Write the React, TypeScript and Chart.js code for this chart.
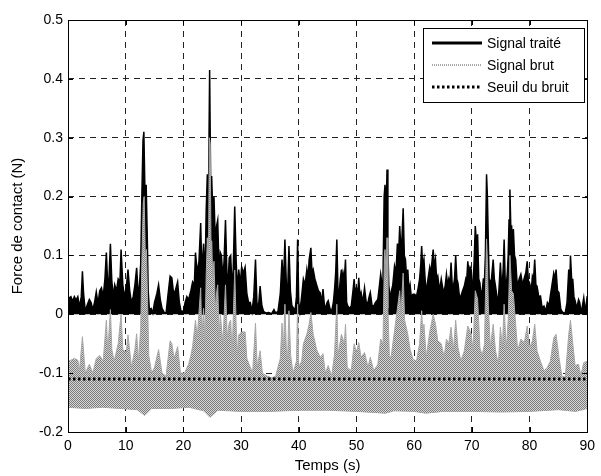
import React, { useEffect, useRef } from "react";
import { Chart, registerables } from "chart.js";

Chart.register(...registerables);

// Signal traité: [time (s), force (N)]
const SIGNAL_TRAITE: [number, number][] = [
  [0, 0], [0.2, 0.028], [0.5, 0.03], [0.8, 0.022], [1.1, 0.03], [1.4, 0.024], [1.7, 0.03], [2.0, 0.012],
  [2.3, 0.03], [2.5, 0.073], [2.7, 0.035], [3.0, 0.005], [3.3, 0.015], [3.7, 0.025], [4.0, 0.02], [4.3, 0.008],
  [4.6, 0.02], [4.9, 0.038], [5.2, 0.018], [5.5, 0.04], [5.8, 0.045], [6.1, 0.03], [6.4, 0.06], [6.65, 0.105],
  [6.9, 0.045], [7.1, 0.06], [7.35, 0.12], [7.6, 0.055], [7.9, 0.03], [8.1, 0.05], [8.4, 0.04], [8.7, 0.06],
  [9.0, 0.055], [9.2, 0.11], [9.5, 0.05], [9.8, 0.03], [10.1, 0.045], [10.4, 0.076], [10.7, 0.04], [11.0, 0.02],
  [11.3, 0.03], [11.6, 0.05], [11.9, 0.079], [12.2, 0.03], [12.4, 0.05], [12.6, 0.085], [12.8, 0.2], [13.0, 0.295],
  [13.15, 0.31], [13.35, 0.2], [13.55, 0.22], [13.75, 0.127], [13.9, 0.04], [14.1, 0.008], [14.4, 0.01], [14.7, 0.002],
  [15.0, 0.02], [15.4, 0.035], [15.7, 0.05], [16.0, 0.025], [16.3, 0.01], [16.7, 0.003], [17.0, 0.002], [17.3, 0.03],
  [17.7, 0.065], [18.0, 0.062], [18.3, 0.035], [18.6, 0.04], [19.0, 0.055], [19.3, 0.02], [19.6, 0.005], [20.0, 0.005],
  [20.3, 0.02], [20.6, 0.03], [20.9, 0.025], [21.3, 0.04], [21.6, 0.055], [21.9, 0.05], [22.1, 0.105], [22.4, 0.07],
  [22.7, 0.09], [23.0, 0.155], [23.2, 0.07], [23.5, 0.12], [23.75, 0.06], [23.95, 0.175], [24.15, 0.238], [24.35, 0.2],
  [24.55, 0.415], [24.75, 0.2], [24.9, 0.235], [25.1, 0.17], [25.3, 0.2], [25.55, 0.12], [25.75, 0.15], [25.95, 0.16],
  [26.2, 0.07], [26.4, 0.105], [26.6, 0.1], [26.85, 0.06], [27.05, 0.09], [27.3, 0.16], [27.55, 0.07], [27.75, 0.05],
  [27.95, 0.096], [28.2, 0.1], [28.45, 0.04], [28.65, 0.08], [28.9, 0.183], [29.15, 0.09], [29.35, 0.04], [29.6, 0.076],
  [29.85, 0.05], [30.1, 0.08], [30.4, 0.07], [30.7, 0.08], [31.0, 0.035], [31.3, 0.02], [31.6, 0.02], [31.9, 0.005],
  [32.2, 0.03], [32.5, 0.093], [32.75, 0.02], [33.0, 0.01], [33.3, 0.048], [33.6, 0.015], [33.9, 0.005], [34.3, 0.002],
  [34.8, 0.003], [35.3, 0.001], [35.7, 0.008], [36.0, 0.002], [36.4, 0.005], [36.8, 0.035], [37.1, 0.093], [37.35, 0.05],
  [37.6, 0.127], [37.85, 0.05], [38.05, 0.03], [38.3, 0.116], [38.55, 0.04], [38.8, 0.015], [39.1, 0.01], [39.4, 0.01],
  [39.6, 0.03], [39.8, 0.127], [40.0, 0.02], [40.2, 0.005], [40.5, 0.03], [40.8, 0.06], [41.1, 0.05], [41.4, 0.076],
  [41.6, 0.06], [41.8, 0.093], [42.1, 0.113], [42.3, 0.07], [42.5, 0.076], [42.8, 0.06], [43.1, 0.05], [43.4, 0.04],
  [43.7, 0.037], [43.95, 0.02], [44.2, 0.043], [44.45, 0.015], [44.6, 0.01], [44.9, 0.02], [45.1, 0.023], [45.4, 0.01],
  [45.7, 0.005], [46.0, 0.02], [46.2, 0.042], [46.4, 0.07], [46.6, 0.127], [46.8, 0.04], [47.0, 0.035], [47.2, 0.06],
  [47.4, 0.076], [47.55, 0.05], [47.7, 0.07], [47.9, 0.06], [48.1, 0.093], [48.3, 0.02], [48.5, 0.014], [48.8, 0.01],
  [49.1, 0.014], [49.4, 0.04], [49.6, 0.06], [49.8, 0.035], [50.0, 0.045], [50.2, 0.03], [50.4, 0.062], [50.6, 0.03],
  [50.8, 0.037], [51.1, 0.02], [51.4, 0.045], [51.7, 0.02], [52.0, 0.02], [52.2, 0.03], [52.4, 0.037], [52.7, 0.015],
  [53.0, 0.014], [53.3, 0.02], [53.7, 0.025], [54.0, 0.05], [54.2, 0.068], [54.45, 0.05], [54.6, 0.06], [54.8, 0.2],
  [54.95, 0.22], [55.15, 0.17], [55.3, 0.246], [55.45, 0.12], [55.6, 0.05], [55.8, 0.03], [56.0, 0.037], [56.3, 0.05],
  [56.6, 0.082], [56.85, 0.07], [57.1, 0.12], [57.3, 0.1], [57.5, 0.15], [57.7, 0.11], [57.85, 0.12], [58.1, 0.18],
  [58.3, 0.1], [58.5, 0.093], [58.7, 0.06], [58.9, 0.076], [59.1, 0.04], [59.3, 0.05], [59.5, 0.03], [59.8, 0.034],
  [60.1, 0.034], [60.4, 0.03], [60.7, 0.045], [60.95, 0.06], [61.15, 0.085], [61.3, 0.116], [61.5, 0.08], [61.7, 0.093],
  [61.9, 0.06], [62.1, 0.037], [62.4, 0.06], [62.7, 0.08], [62.9, 0.07], [63.1, 0.09], [63.3, 0.11], [63.5, 0.08],
  [63.7, 0.093], [63.9, 0.06], [64.1, 0.065], [64.4, 0.04], [64.7, 0.06], [64.95, 0.045], [65.2, 0.037], [65.4, 0.05],
  [65.6, 0.068], [65.8, 0.05], [66.0, 0.06], [66.2, 0.05], [66.4, 0.088], [66.6, 0.05], [66.8, 0.048], [67.0, 0.06],
  [67.2, 0.1], [67.4, 0.06], [67.6, 0.053], [67.85, 0.03], [68.1, 0.031], [68.4, 0.04], [68.7, 0.048], [68.95, 0.06],
  [69.1, 0.055], [69.3, 0.09], [69.5, 0.07], [69.7, 0.08], [69.9, 0.076], [70.05, 0.04], [70.2, 0.048], [70.4, 0.09],
  [70.6, 0.15], [70.8, 0.12], [71.0, 0.136], [71.2, 0.06], [71.4, 0.053], [71.6, 0.03], [71.8, 0.04], [72.0, 0.06],
  [72.2, 0.06], [72.35, 0.1], [72.55, 0.238], [72.7, 0.2], [72.85, 0.127], [73.0, 0.06], [73.2, 0.053], [73.4, 0.06],
  [73.7, 0.093], [73.9, 0.06], [74.1, 0.048], [74.35, 0.03], [74.6, 0.025], [74.8, 0.06], [74.95, 0.088], [75.15, 0.05],
  [75.3, 0.053], [75.45, 0.08], [75.6, 0.127], [75.8, 0.05], [75.95, 0.048], [76.15, 0.07], [76.3, 0.1], [76.45, 0.16],
  [76.6, 0.212], [76.75, 0.15], [76.9, 0.15], [77.05, 0.1], [77.2, 0.145], [77.4, 0.1], [77.6, 0.093], [77.8, 0.06],
  [77.95, 0.048], [78.2, 0.06], [78.5, 0.068], [78.8, 0.05], [79.1, 0.062], [79.35, 0.07], [79.6, 0.09], [79.85, 0.05],
  [80.0, 0.053], [80.3, 0.04], [80.5, 0.065], [80.7, 0.06], [80.9, 0.093], [81.1, 0.05], [81.3, 0.048], [81.6, 0.03],
  [81.9, 0.031], [82.2, 0.01], [82.5, 0.014], [82.8, 0.005], [83.1, 0.02], [83.4, 0.015], [83.6, 0.031], [83.9, 0.05],
  [84.2, 0.07], [84.45, 0.06], [84.6, 0.076], [84.85, 0.04], [85.1, 0.037], [85.4, 0.01], [85.6, 0.005], [85.9, 0.002],
  [86.2, 0.003], [86.5, 0.02], [86.8, 0.076], [87.0, 0.06], [87.1, 0.1], [87.3, 0.06], [87.5, 0.059], [87.7, 0.03],
  [87.9, 0.023], [88.2, 0.01], [88.5, 0.025], [88.7, 0.02], [88.9, 0.006], [89.1, 0.01], [89.4, 0.028], [89.6, 0.01],
  [89.8, 0.014], [90.0, 0.031],
];

// Signal brut, upper envelope: [time (s), force (N)]
const SIGNAL_BRUT_HAUT: [number, number][] = [
  [0, -0.08], [0.5, -0.078], [1.1, -0.075], [1.7, -0.078], [2.0, -0.095], [2.5, -0.038], [3.0, -0.1], [3.7, -0.085],
  [4.3, -0.1], [4.9, -0.075], [5.5, -0.07], [6.1, -0.08], [6.65, -0.01], [6.9, -0.065], [7.35, 0.008], [7.6, -0.06],
  [8.0, -0.08], [8.7, -0.05], [9.2, 0.0], [9.5, -0.06], [10.1, -0.065], [10.4, -0.035], [11.0, -0.09], [11.6, -0.06],
  [11.9, -0.033], [12.2, -0.08], [12.6, -0.025], [12.8, 0.09], [13.05, 0.19], [13.2, 0.2], [13.4, 0.1], [13.6, 0.11],
  [13.8, 0.02], [14.0, -0.07], [14.5, -0.1], [15.0, -0.09], [15.7, -0.06], [16.3, -0.1], [17.0, -0.105], [17.7, -0.045],
  [18.0, -0.05], [18.4, -0.075], [19.0, -0.055], [19.5, -0.1], [20.2, -0.1], [20.9, -0.085], [21.3, -0.07], [21.6, -0.055],
  [22.1, -0.01], [22.4, -0.04], [23.0, 0.045], [23.2, -0.04], [23.5, 0.01], [23.75, -0.045], [23.95, 0.065], [24.15, 0.13],
  [24.35, 0.09], [24.5, 0.3], [24.65, 0.29], [24.8, 0.1], [24.9, 0.125], [25.1, 0.06], [25.3, 0.09], [25.55, 0.01],
  [25.8, 0.04], [25.95, 0.05], [26.2, -0.04], [26.4, 0.0], [26.85, -0.05], [27.3, 0.05], [27.6, -0.04], [27.95, -0.015],
  [28.2, -0.01], [28.45, -0.07], [28.9, 0.075], [29.15, -0.02], [29.4, -0.07], [29.6, -0.035], [30.1, -0.03], [30.7, -0.03],
  [31.0, -0.075], [31.6, -0.09], [32.0, -0.1], [32.5, -0.015], [32.8, -0.09], [33.3, -0.062], [33.7, -0.1], [34.5, -0.105],
  [35.3, -0.108], [36.0, -0.105], [36.8, -0.075], [37.1, -0.015], [37.35, -0.06], [37.6, 0.017], [37.85, -0.06], [38.05, -0.08],
  [38.3, 0.006], [38.6, -0.07], [39.0, -0.1], [39.6, -0.08], [39.8, 0.017], [40.0, -0.09], [40.5, -0.08], [40.8, -0.05],
  [41.4, -0.034], [41.8, -0.017], [42.1, 0.003], [42.5, -0.034], [43.1, -0.06], [43.7, -0.073], [44.2, -0.067], [44.6, -0.1],
  [45.1, -0.087], [45.7, -0.105], [46.2, -0.068], [46.6, 0.017], [46.8, -0.07], [47.4, -0.034], [47.9, -0.05], [48.1, -0.017],
  [48.4, -0.09], [49.1, -0.096], [49.6, -0.05], [50.0, -0.065], [50.4, -0.048], [50.8, -0.073], [51.4, -0.065], [52.0, -0.09],
  [52.4, -0.073], [53.0, -0.096], [53.7, -0.085], [54.2, -0.042], [54.6, -0.05], [54.85, 0.1], [54.95, 0.11], [55.15, 0.06],
  [55.3, 0.13], [55.45, 0.01], [55.7, -0.07], [56.0, -0.073], [56.6, -0.028], [57.1, 0.01], [57.5, 0.04], [57.7, 0.0],
  [58.1, 0.07], [58.35, -0.01], [58.9, -0.034], [59.3, -0.06], [59.8, -0.076], [60.4, -0.08], [60.95, -0.05], [61.3, 0.006],
  [61.5, -0.03], [61.7, -0.017], [62.1, -0.073], [62.7, -0.03], [63.3, 0.0], [63.7, -0.017], [64.1, -0.045], [64.7, -0.05],
  [65.2, -0.073], [65.6, -0.042], [66.0, -0.05], [66.4, -0.022], [66.8, -0.062], [67.2, -0.01], [67.6, -0.057], [68.1, -0.079],
  [68.7, -0.062], [69.3, -0.02], [69.9, -0.034], [70.2, -0.062], [70.6, 0.04], [71.0, 0.026], [71.4, -0.057], [71.8, -0.07],
  [72.2, -0.05], [72.55, 0.128], [72.7, 0.09], [72.85, 0.017], [73.2, -0.057], [73.7, -0.017], [74.1, -0.062], [74.6, -0.085],
  [74.95, -0.022], [75.3, -0.057], [75.6, 0.017], [75.95, -0.062], [76.3, -0.01], [76.6, 0.1], [76.9, 0.04], [77.2, 0.035],
  [77.6, -0.017], [77.95, -0.062], [78.5, -0.042], [79.1, -0.048], [79.6, -0.02], [80.0, -0.057], [80.5, -0.045], [80.9, -0.017],
  [81.3, -0.062], [81.9, -0.08], [82.5, -0.096], [83.1, -0.09], [83.6, -0.08], [84.2, -0.04], [84.6, -0.034], [85.1, -0.073],
  [85.6, -0.105], [86.2, -0.107], [86.8, -0.034], [87.1, -0.01], [87.5, -0.05], [87.9, -0.087], [88.5, -0.085], [88.9, -0.104],
  [89.4, -0.082], [90.0, -0.08],
];

// Signal brut, lower envelope: [time (s), force (N)]
const SIGNAL_BRUT_BAS: [number, number][] = [
  [0, -0.158], [3, -0.16], [6, -0.158], [9, -0.16], [12, -0.162], [13.3, -0.172], [14.5, -0.16], [18, -0.16],
  [21, -0.158], [23.5, -0.164], [24.6, -0.175], [26, -0.163], [30, -0.165], [35, -0.165], [40, -0.163], [45, -0.163],
  [50, -0.165], [55, -0.168], [56.5, -0.164], [60, -0.165], [62, -0.168], [65, -0.165], [70, -0.165], [75, -0.166],
  [80, -0.165], [85, -0.162], [88, -0.165], [90, -0.16],
];

const SEUIL_T = [0, 90];
const SEUIL_VALUE = -0.11;

const X_TICKS = [0, 10, 20, 30, 40, 50, 60, 70, 80, 90];
const Y_TICKS = [-0.2, -0.1, 0, 0.1, 0.2, 0.3, 0.4, 0.5];

const LEGEND_LABELS = ["Signal traité", "Signal brut", "Seuil du bruit"];

const FONT = "'Liberation Sans', Arial, Helvetica, sans-serif";

const toPts = (arr: [number, number][]) => arr.map(([x, y]) => ({ x, y }));

function makeDither(): CanvasPattern | string {
  const c = document.createElement("canvas");
  c.width = 2;
  c.height = 2;
  const g = c.getContext("2d");
  if (!g) return "#a8a8a8";
  g.fillStyle = "#d6d6d6";
  g.fillRect(0, 0, 2, 2);
  g.fillStyle = "#7c7c7c";
  g.fillRect(0, 0, 1, 1);
  g.fillRect(1, 1, 1, 1);
  const p = g.createPattern(c, "repeat");
  return p || "#a8a8a8";
}

const boxAndLegend = {
  id: "boxAndLegend",
  afterDraw(chart: any) {
    const { ctx, chartArea } = chart;
    const { left, right, top, bottom } = chartArea;
    ctx.save();
    ctx.setLineDash([]);
    ctx.strokeStyle = "#000";
    ctx.lineWidth = 1;
    ctx.strokeRect(Math.round(left) + 0.5, Math.round(top) + 0.5, Math.round(right - left), Math.round(bottom - top));

    // small inward tick marks
    ctx.beginPath();
    chart.scales.x.ticks.forEach((t: any) => {
      const px = Math.round(chart.scales.x.getPixelForValue(t.value)) + 0.5;
      ctx.moveTo(px, bottom);
      ctx.lineTo(px, bottom - 5);
      ctx.moveTo(px, top);
      ctx.lineTo(px, top + 5);
    });
    chart.scales.y.ticks.forEach((t: any) => {
      const py = Math.round(chart.scales.y.getPixelForValue(t.value)) + 0.5;
      ctx.moveTo(left, py);
      ctx.lineTo(left + 5, py);
      ctx.moveTo(right, py);
      ctx.lineTo(right - 5, py);
    });
    ctx.stroke();

    // legend
    const lx = 423, ly = 28, lw = 161, lh = 74;
    ctx.fillStyle = "#fff";
    ctx.fillRect(lx, ly, lw, lh);
    ctx.strokeStyle = "#000";
    ctx.lineWidth = 1;
    ctx.strokeRect(lx + 0.5, ly + 0.5, lw, lh);
    const rows = [43, 65, 87];
    const x0 = 432, x1 = 482;
    ctx.beginPath();
    ctx.lineWidth = 3;
    ctx.strokeStyle = "#000";
    ctx.moveTo(x0, rows[0]);
    ctx.lineTo(x1, rows[0]);
    ctx.stroke();
    ctx.beginPath();
    ctx.lineWidth = 1.5;
    ctx.strokeStyle = "#8a8a8a";
    ctx.setLineDash([1, 1]);
    ctx.moveTo(x0, rows[1]);
    ctx.lineTo(x1, rows[1]);
    ctx.stroke();
    ctx.beginPath();
    ctx.lineWidth = 3;
    ctx.strokeStyle = "#000";
    ctx.setLineDash([2.5, 2.5]);
    ctx.moveTo(x0, rows[2]);
    ctx.lineTo(x1, rows[2]);
    ctx.stroke();
    ctx.setLineDash([]);
    ctx.fillStyle = "#000";
    ctx.font = `14px ${FONT}`;
    ctx.textBaseline = "middle";
    ctx.textAlign = "left";
    LEGEND_LABELS.forEach((t, i) => ctx.fillText(t, 487, rows[i] + 1));
    ctx.restore();
  },
};

export default function App() {
  const ref = useRef<HTMLCanvasElement | null>(null);

  useEffect(() => {
    document.body.style.margin = "0";
    const canvas = ref.current;
    if (!canvas) return;
    const dither = makeDither();
    const chart = new Chart(canvas, {
      type: "line",
      data: {
        datasets: [
          {
            label: LEGEND_LABELS[2],
            data: SEUIL_T.map((x) => ({ x, y: SEUIL_VALUE })),
            borderColor: "#000",
            borderWidth: 3,
            borderDash: [2.5, 2.5],
            pointRadius: 0,
            fill: false,
            order: 0,
          },
          {
            label: LEGEND_LABELS[1],
            data: toPts(SIGNAL_BRUT_HAUT),
            borderColor: "#a8a8a8",
            borderWidth: 1,
            backgroundColor: dither,
            pointRadius: 0,
            fill: 2,
            order: 1,
          },
          {
            label: "bas",
            data: toPts(SIGNAL_BRUT_BAS),
            borderColor: "#a0a0a0",
            borderWidth: 1,
            pointRadius: 0,
            fill: false,
            order: 1,
          },
          {
            label: LEGEND_LABELS[0],
            data: toPts(SIGNAL_TRAITE),
            borderColor: "#000",
            borderWidth: 1.5,
            backgroundColor: "#000",
            pointRadius: 0,
            fill: "origin",
            order: 2,
          },
        ],
      },
      options: {
        animation: false,
        responsive: false,
        devicePixelRatio: 1,
        layout: { padding: { left: 0, top: 20, right: 10, bottom: 0 } },
        elements: { line: { tension: 0 } },
        plugins: { legend: { display: false }, tooltip: { enabled: false } },
        scales: {
          x: {
            type: "linear",
            min: 0,
            max: 90,
            afterFit: (s: any) => {
              s.height = 44;
            },
            afterBuildTicks: (s: any) => {
              s.ticks = X_TICKS.map((v) => ({ value: v }));
            },
            ticks: {
              color: "#000",
              font: { family: FONT, size: 14 },
              padding: 6,
              maxRotation: 0,
              callback: (v: any) => String(v),
            },
            grid: { color: "#222", lineWidth: 1, drawTicks: false },
            border: { display: false, dash: [6, 5] },
            title: {
              display: true,
              text: "Temps (s)",
              color: "#000",
              font: { family: FONT, size: 15 },
              padding: { top: 0, bottom: 1 },
            },
          },
          y: {
            type: "linear",
            min: -0.2,
            max: 0.5,
            afterFit: (s: any) => {
              s.width = 68;
            },
            afterBuildTicks: (s: any) => {
              s.ticks = Y_TICKS.map((v) => ({ value: v }));
            },
            ticks: {
              color: "#000",
              font: { family: FONT, size: 14 },
              padding: 5,
              callback: (v: any) => String(Math.round(Number(v) * 10) / 10),
            },
            grid: { color: "#222", lineWidth: 1, drawTicks: false },
            border: { display: false, dash: [6, 5] },
            title: {
              display: true,
              text: "Force de contact (N)",
              color: "#000",
              font: { family: FONT, size: 15 },
              padding: { top: 9, bottom: 0 },
            },
          },
        },
      },
      plugins: [boxAndLegend],
    } as any);
    return () => chart.destroy();
  }, []);

  return (
    <div style={{ width: 601, height: 476 }}>
      <canvas ref={ref} width={601} height={476} style={{ display: "block" }} />
    </div>
  );
}
